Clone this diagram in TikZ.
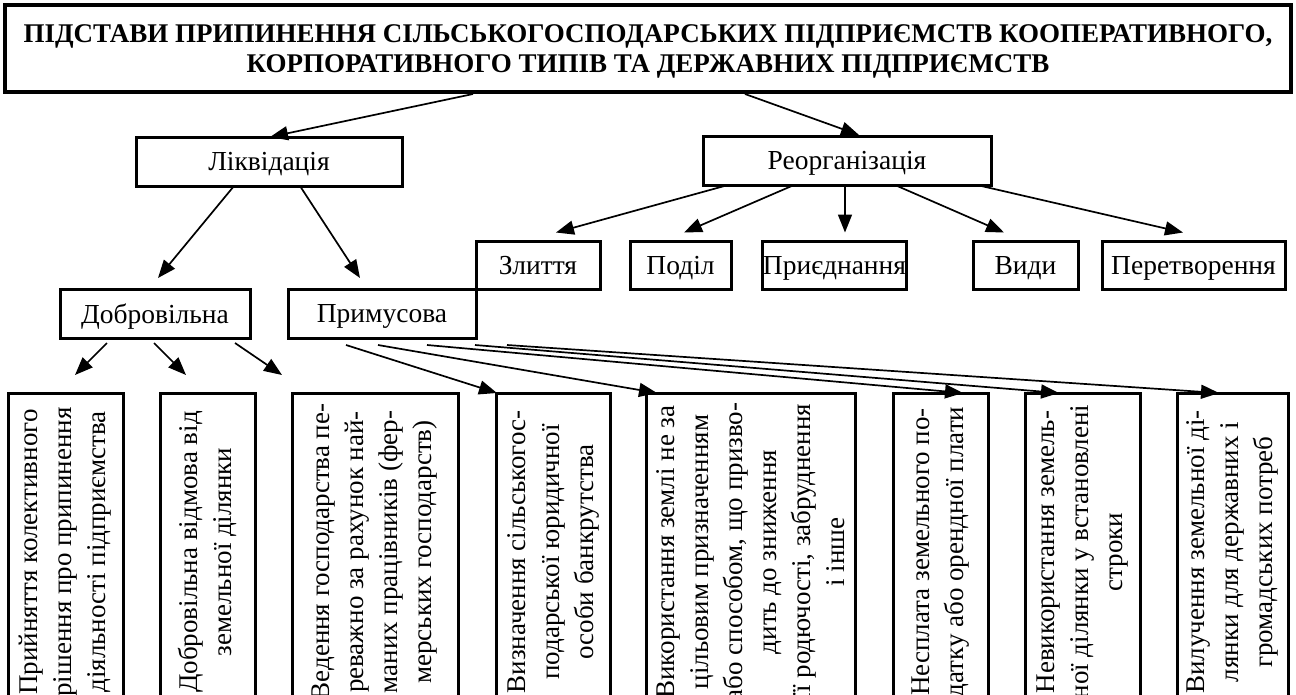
\documentclass[tikz,border=0pt]{standalone}
\usepackage{fontspec}
\setmainfont{Liberation Serif}
\usetikzlibrary{arrows.meta,calc}

\begin{document}
\begin{tikzpicture}[x=1pt, y=-1pt, >={Triangle[length=18pt,width=14pt]},
	lvlbox/.style={draw, line width=3pt, inner sep=0pt, outer sep=0pt, minimum height=49pt, text depth=0pt, font=\fontsize{27.5}{30}\selectfont},
	lowbox/.style={draw, line width=3pt, inner sep=0pt, outer sep=0pt, minimum height=318pt},
	lowtext/.style={rotate=90, align=center, inner sep=0pt, font=\fontsize{27}{34}\selectfont},
	arr/.style={->, line width=1.7pt}]
	\useasboundingbox (0,0) rectangle (1296,694);
	\clip (0,0) rectangle (1296,694);

	\node [lvlbox, line width=4pt, minimum width=1286pt, minimum height=87pt, align=center, font=\bfseries\fontsize{27}{30}\selectfont] (title) at (648,48.5)
		{ПІДСТАВИ ПРИПИНЕННЯ СІЛЬСЬКОГОСПОДАРСЬКИХ ПІДПРИЄМСТВ КООПЕРАТИВНОГО,\\КОРПОРАТИВНОГО ТИПІВ ТА ДЕРЖАВНИХ ПІДПРИЄМСТВ};

	\node [lvlbox, minimum width=266pt] (liq) at (269,161.5) {Ліквідація};
	\node [lvlbox, minimum width=288pt] (reorg) at (847,160.5) {Реорганізація};

	\node [lvlbox, minimum width=124pt, minimum height=48pt] (zlyt) at (538,265.5) {Злиття};
	\node [lvlbox, minimum width=101pt, minimum height=48pt] (podil) at (680.5,265.5) {Поділ};
	\node [lvlbox, minimum width=143pt, minimum height=48pt] (pryed) at (834.5,265.5) {Приєднання};
	\node [lvlbox, minimum width=105pt, minimum height=48pt] (vydy) at (1025.5,265.5) {Види};
	\node [lvlbox, minimum width=183pt, minimum height=48pt] (pere) at (1193.5,265.5) {Перетворення};

	\node [lvlbox, minimum width=190pt] (dobr) at (155,313.5) {Добровільна};
	\node [lvlbox, minimum width=188pt] (prim) at (382,313.5) {Примусова};

	\foreach \n/\x/\w/\txt in {
		1/65.5/115/{Прийняття колективного\\рішення про припинення\\діяльності підприємства},
		2/207.5/95/{Добровільна відмова від\\земельної ділянки},
		3/375/166/{Ведення господарства пе-\\реважно за рахунок най-\\маних працівників (фер-\\мерських господарств)},
		4/553/114/{Визначення сільськогос-\\подарської юридичної\\особи банкрутства},
		5/750.5/209/{Використання землі не за\\цільовим призначенням\\або способом, що призво-\\дить до зниження\\її родючості, забруднення\\і інше},
		6/940.5/95/{Несплата земельного по-\\датку або орендної плати},
		7/1082.5/115/{Невикористання земель-\\ної ділянки у встановлені\\строки},
		8/1232.5/111/{Вилучення земельної ді-\\лянки для державних і\\громадських потреб}} {
		\node [lowbox, minimum width=\w pt] (b\n) at (\x,552) {};
		\node [lowtext] (t\n) at (b\n.center) {\txt};
	}

	\draw [arr] ($(title.south)+(-175,2)$) -- ($(liq.north)+(1,0)$);
	\draw [arr] ($(title.south)+(97,2)$) -- ($(reorg.north)+(12,-1)$);
	\draw [arr] ($(liq.south)+(-35,0)$) -- ($(dobr.north)+(3,-11)$);
	\draw [arr] ($(liq.south)+(31,0)$) -- ($(prim.north)+(-22,-11)$);
	\foreach \dx/\bx/\tx in {-119/zlyt/18, -53/podil/3.5, -2/pryed/10.5, 48/vydy/-21.5, 130/pere/-10.5}
		\draw [arr] ($(reorg.south)+(\dx,0)$) -- ($(\bx.north)+(\tx,-9)$);
	\foreach \dx/\bx/\tx in {-48/1/9.5, -1/2/-21.5, 80/3/-93}
		\draw [arr] ($(dobr.south)+(\dx,5)$) -- ($(b\bx.north)+(\tx,-18)$);
	\foreach \dx/\bx/\tx in {-36/4/1, -4/5/11, 45/6/70, 93/7/34, 125/8/42}
		\draw [arr] ($(prim.south)+(\dx,7)$) -- ($(b\bx.north west)+(\tx,0)$);
\end{tikzpicture}
\end{document}
